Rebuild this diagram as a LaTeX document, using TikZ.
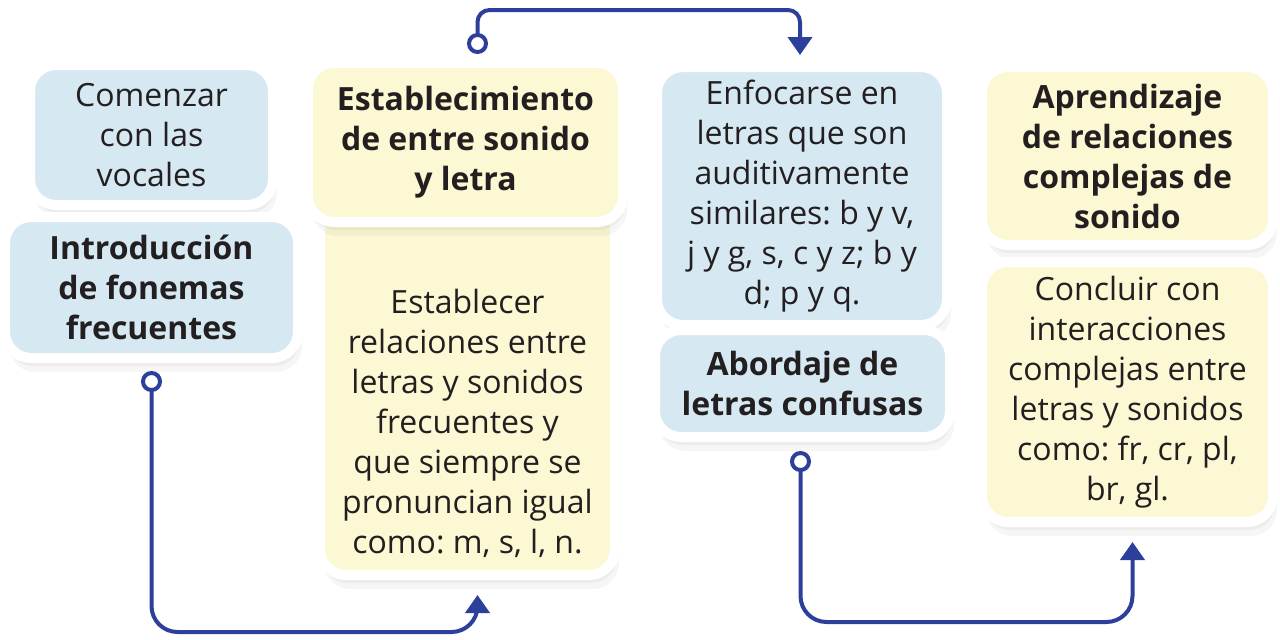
\documentclass[tikz,border=0pt]{standalone}
\usepackage{fontspec}
\setmainfont{Open Sans}
\frenchspacing
\usetikzlibrary{arrows.meta,shadows}
\definecolor{boxblue}{HTML}{D6E8F2}
\definecolor{boxyellow}{HTML}{FBF8D3}
\definecolor{linkblue}{HTML}{2C3F9B}
\definecolor{inktext}{HTML}{231F20}
\tikzset{
  card/.style={draw=white, line width=10pt, rounded corners=26pt, inner sep=0pt,
    align=center, text=inktext, font=\fontsize{32}{40}\selectfont,
    drop shadow={shadow xshift=4pt, shadow yshift=-14pt, opacity=0.07},
    drop shadow={shadow xshift=2pt, shadow yshift=-8pt, opacity=0.08}},
  bluecard/.style={card, fill=boxblue},
  yellowcard/.style={card, fill=boxyellow},
  boldtext/.style={font=\fontsize{32}{40}\selectfont\bfseries},
  link/.style={draw=linkblue, line width=4pt,
    {Circle[open, fill=white, length=21pt, width=21pt]}-{Triangle[length=18pt, width=24pt]}}
}
\begin{document}
\begin{tikzpicture}[x=1pt, y=-1pt]
\fill[white] (0,0) rectangle (1280,640);
\useasboundingbox (0,0) rectangle (1280,640);

% Left column
\node[bluecard, minimum width=243pt, minimum height=140pt] (vocal) at (151.5,135) {Comenzar\\con las\\vocales};
\node[bluecard, boldtext, minimum width=293pt, minimum height=141pt] (intro) at (151.5,287.5) {Introducción\\de fonemas\\frecuentes};

% Second column
\node[yellowcard, minimum width=295pt, minimum height=370pt] (relac) at (467.5,390) {};
\node[text=inktext, align=center, font=\fontsize{32}{40}\selectfont, inner sep=0pt] (relactext) at (467.5,423) {Establecer\\relaciones entre\\letras y sonidos\\frecuentes y\\que siempre se\\pronuncian igual\\como: m, s, l, n.};
\node[yellowcard, boldtext, minimum width=315pt, minimum height=159pt] (estab) at (465.5,142.5) {Establecimiento\\de entre sonido\\y letra};

% Third column
\node[bluecard, minimum width=290pt, minimum height=258pt] (enfo) at (802,196) {Enfocarse en\\letras que son\\auditivamente\\similares: b y v,\\j y g, s, c y z; b y\\d; p y q.};
\node[bluecard, boldtext, minimum width=295pt, minimum height=107pt] (abord) at (802.5,383.5) {Abordaje de\\letras confusas};

% Right column
\node[yellowcard, boldtext, minimum width=291pt, minimum height=178pt] (aprend) at (1127.5,156) {Aprendizaje\\de relaciones\\complejas de\\sonido};
\node[yellowcard, minimum width=291pt, minimum height=260pt] (concl) at (1127.5,392) {Concluir con\\interacciones\\complejas entre\\letras y sonidos\\como: fr, cr, pl,\\br, gl.};

% Connectors
\coordinate (lowA) at (300,632);
\coordinate (topB) at (640,10);
\coordinate (lowC) at (960,622);
\draw[link, rounded corners=26pt] ([yshift=-8pt]intro.south) |- (lowA) -| ([xshift=10pt,yshift=-15pt]relac.south);
\draw[link, rounded corners=12pt] ([xshift=12pt,yshift=4pt]estab.north) |- (topB) -| ([xshift=-2pt,yshift=7pt]enfo.north);
\draw[link, rounded corners=26pt] ([xshift=-2pt,yshift=-9pt]abord.south) |- (lowC) -| ([xshift=5pt,yshift=-15pt]concl.south);
\end{tikzpicture}
\end{document}
